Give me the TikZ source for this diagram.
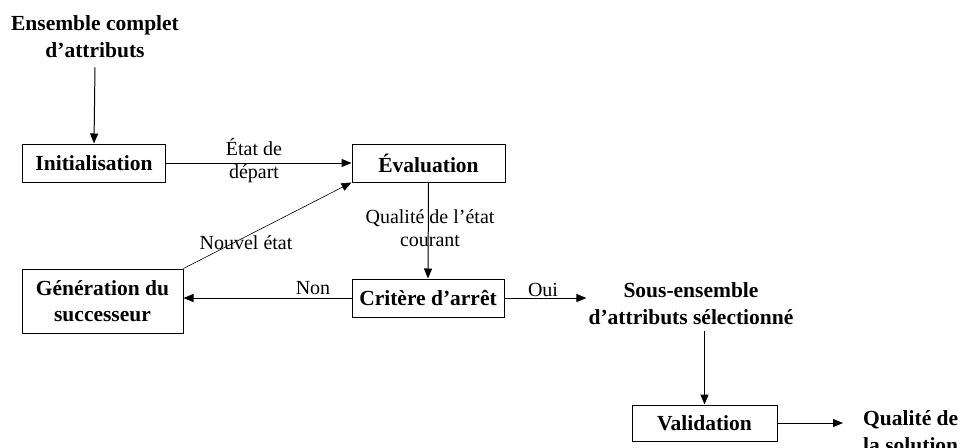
\documentclass[tikz,border=0pt]{standalone}
\usepackage{fontspec}
\setmainfont{Liberation Serif}
\usetikzlibrary{arrows.meta}
\begin{document}
\begin{tikzpicture}[x=1pt,y=-1pt,
  box/.style={draw,line width=1pt,inner sep=0pt,align=center,
    font=\fontsize{21.5}{26}\selectfont\bfseries},
  term/.style={inner sep=2pt,align=center,
    font=\fontsize{21.5}{27}\selectfont\bfseries},
  lbl/.style={inner sep=0pt,align=center,
    font=\fontsize{20}{23}\selectfont},
  flow/.style={line width=1pt,-{Triangle[length=10pt,width=8pt]}}]
\useasboundingbox (0,0) rectangle (960,447);

% processing steps
\node[box,minimum width=143,minimum height=38] (init) at (94,163) {Initialisation};
\node[box,minimum width=153,minimum height=38] (eval) at (428.5,163) {Évaluation};
\node[box,minimum width=152,minimum height=38] (crit) at (428,298) {Critère d’arrêt};
\node[box,minimum width=161,minimum height=64] (gen) at (102.5,301) {Génération du\\successeur};
\node[box,minimum width=145,minimum height=36] (valid) at (704.5,423) {Validation};

% inputs and outputs
\node[term] (ens) at (95,37) {Ensemble complet\\d’attributs};
\node[term] (sous) at (691,304) {Sous-ensemble\\d’attributs sélectionné};
\node[term,anchor=north west] (qual) at (861,408) {Qualité de\\la solution};

% connectors
\draw[flow] ([yshift=-7pt]ens.south) -- (init.north);
\draw[flow] (init.east) -- (eval.west);
\draw[flow] (eval.south) -- (crit.north);
\draw[flow] (crit.west) -- (crit.west -| gen.east);
\draw[line width=0.6pt,-{Triangle[length=10pt,width=8pt]}] (gen.north east) -- (eval.south west);
\draw[flow] (crit.east) -- (crit.east -| sous.west);
\draw[flow] ([yshift=-4pt]valid.north |- sous.south) -- (valid.north);
\draw[flow] (valid.east) -- ([xshift=-18pt]valid.east -| qual.west);

% connector labels
\node[lbl] (lstart) at (254,161) {État de\\départ};
\node[lbl] (lqual) at (430,228) {Qualité de l’état\\courant};
\node[lbl] (lnew) at (246,243) {Nouvel état};
\node[lbl] (lnon) at (313,288) {Non};
\node[lbl] (loui) at (543,290) {Oui};
\end{tikzpicture}
\end{document}
